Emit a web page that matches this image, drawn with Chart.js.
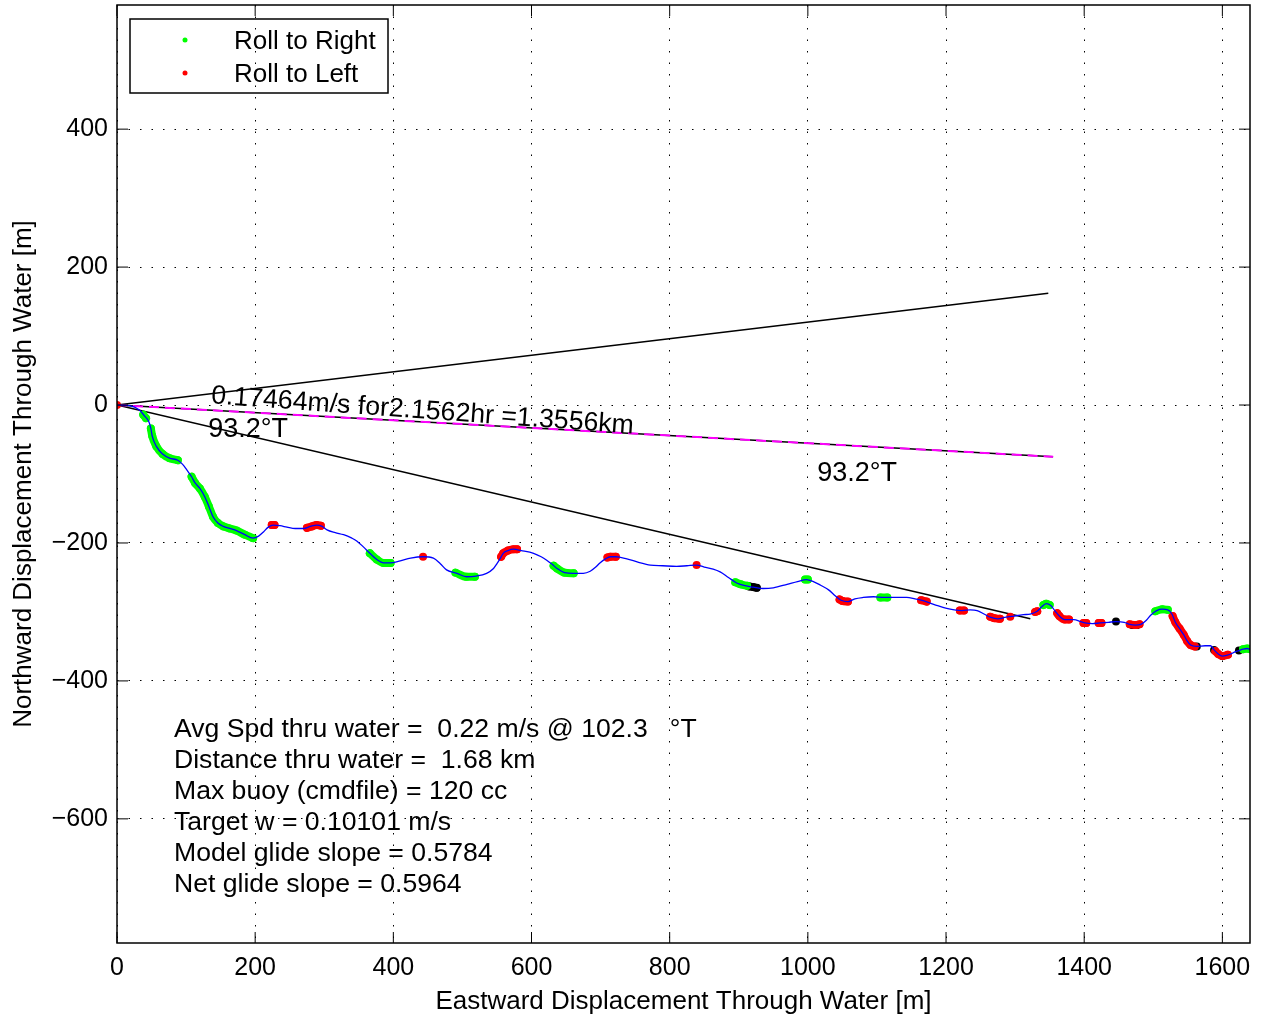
<!DOCTYPE html>
<html>
<head>
<meta charset="utf-8">
<script src="https://cdn.jsdelivr.net/npm/chart.js@4.4.0/dist/chart.umd.min.js"></script>
<style>
  body { margin: 0; background: #fff; }
  #wrap { width: 1262px; height: 1018px; }
</style>
</head>
<body>
<div id="wrap"><canvas id="glider" width="1262" height="1018"></canvas></div>
<script>
// axis ticks
const xTicks = [0, 200, 400, 600, 800, 1000, 1200, 1400, 1600];
const yTicks = [-600, -400, -200, 0, 200, 400];

// glider track through water (east, north) in metres
const trackX = [0, 18, 32, 40, 46, 49, 51, 57, 66, 76, 88, 95, 101, 108, 113, 120, 127, 133, 139, 146, 154, 163, 173, 185, 197,
  205, 212, 219, 226, 236, 246, 258, 270, 280, 289, 297, 304, 316, 328, 340, 347, 357, 366, 376, 386, 396, 410, 425, 443,
  458, 468, 477, 492, 506, 520, 535, 545, 550, 555, 559, 566, 574, 585, 603, 614, 622, 630, 637, 648, 661, 675, 685, 693,
  699, 707, 714, 722, 738, 755, 772, 790, 810, 825, 839, 850, 863, 873, 885, 897, 909, 921, 935, 950, 970, 985, 998, 1008,
  1018, 1030, 1040, 1048, 1058, 1068, 1080, 1095, 1110, 1125, 1143, 1155, 1168, 1185, 1201, 1212, 1223, 1235, 1245, 1255,
  1265, 1275, 1285, 1298, 1312, 1322, 1332, 1338, 1345, 1352, 1358, 1364, 1372, 1385, 1395, 1401, 1412, 1423, 1435, 1446,
  1458, 1466, 1474, 1482, 1490, 1497, 1505, 1513, 1521, 1527, 1532, 1538, 1544, 1549, 1554, 1563, 1575, 1583, 1588, 1594,
  1600, 1606, 1612, 1618, 1624, 1630, 1636, 1641];
const trackY = [0, -1, -7, -16, -24, -34, -45, -60, -71, -77, -80, -86, -94, -104, -113, -121, -133, -147, -162, -171, -176, -179, -182, -188, -193,
  -190, -184, -177, -174, -175, -177, -179, -179, -176, -174, -176, -181, -185, -188, -193, -197, -206, -215, -224, -229, -229, -226, -222, -220,
  -222, -230, -239, -244, -249, -248, -244, -237, -230, -222, -215, -211, -209, -211, -215, -220, -225, -231, -237, -243, -244, -244, -241, -235,
  -229, -223, -220, -220, -223, -228, -232, -233, -234, -233, -232, -235, -238, -242, -250, -258, -262, -264, -266, -265, -260, -256, -253, -256,
  -261, -268, -277, -283, -285, -281, -279, -278, -279, -279, -279, -281, -284, -290, -295, -297, -298, -297, -298, -303,
  -308, -310, -308, -306, -304, -303, -299, -293, -288, -291, -299, -306, -311, -311, -314, -316, -317, -316, -315, -314,
  -315, -318, -319, -318, -312, -304, -298, -296, -297, -303, -315, -324, -333, -342, -348, -350, -349, -349, -355, -361,
  -364, -363, -361, -358, -356, -354, -353, -355];

// roll events, as runs of track points
const rollRight = [
  [[38, -14], [42, -19]],
  [[49, -34], [51, -45], [57, -60], [66, -71], [76, -77], [88, -80]],
  [[108, -104], [113, -113], [120, -121], [127, -133], [133, -147], [139, -162], [146, -171], [154, -176], [163, -179], [173, -182], [185, -188], [197, -193]],
  [[366, -215], [376, -224], [386, -229], [396, -229]],
  [[490, -243], [506, -249], [518, -249]],
  [[632, -233], [637, -237], [648, -243], [661, -244]],
  [[895, -257], [903, -260], [912, -262]],
  [[996, -253], [1000, -253]],
  [[1105, -279], [1115, -279]],
  [[1341, -290], [1345, -288], [1350, -290]],
  [[1503, -299], [1513, -296], [1521, -297]],
  [[1630, -354], [1636, -353], [1640, -354]]
];
const rollLeft = [
  [[0, 0]],
  [[224, -174], [228, -174]],
  [[275, -178], [282, -176], [289, -174], [295, -175]],
  [[443, -220]],
  [[556, -220], [559, -215], [566, -211], [574, -209], [579, -209]],
  [[710, -221], [714, -220], [722, -220]],
  [[839, -232]],
  [[1046, -282], [1050, -284], [1058, -285]],
  [[1164, -283], [1172, -285]],
  [[1220, -298], [1226, -298]],
  [[1264, -307], [1270, -309], [1278, -310]],
  [[1293, -307]],
  [[1329, -300], [1332, -299]],
  [[1361, -302], [1364, -306], [1372, -311], [1378, -311]],
  [[1399, -316], [1403, -316]],
  [[1421, -316], [1425, -316]],
  [[1466, -318], [1474, -319], [1480, -318]],
  [[1528, -306], [1532, -315], [1538, -324], [1544, -333], [1549, -342], [1554, -348], [1560, -350]],
  [[1590, -357], [1594, -361], [1600, -364], [1608, -362]]
];
const noRoll = [
  [[915, -263], [921, -264], [926, -265]],
  [[1446, -314]],
  [[1470, -319], [1476, -319]],
  [[1563, -350]],
  [[1588, -355]],
  [[1600, -364]],
  [[1624, -356]]
];

// straight lines from the start
const upperLine = [[0, 0], [1348, 162]];
const headingLine = [[0, 0], [1355, -75]];
const lowerLine = [[0, 0], [1322, -310]];

const speedLabel = '0.17464m/s for2.1562hr =1.3556km';
const headingLabel = '93.2°T';
const infoLines = [
  'Avg Spd thru water =  0.22 m/s @ 102.3   °T',
  'Distance thru water =  1.68 km',
  'Max buoy (cmdfile) = 120 cc',
  'Target w = 0.10101 m/s',
  'Model glide slope = 0.5784',
  'Net glide slope = 0.5964'
];

const FONT = "'Liberation Sans', Arial, Helvetica, sans-serif";
Chart.defaults.font.family = FONT;
Chart.defaults.color = '#000';

const pts = arr => arr.map(p => ({ x: p[0], y: p[1] }));

const datasets = [];
datasets.push({
  data: trackX.map((v, i) => ({ x: v, y: trackY[i] })),
  showLine: true, borderColor: '#0000ff', borderWidth: 1.3, pointRadius: 0,
  cubicInterpolationMode: 'monotone', order: 0
});
function addRuns(runs, color) {
  runs.forEach(run => {
    datasets.push({
      data: pts(run), showLine: true, borderColor: color, borderWidth: 8,
      borderCapStyle: 'round', borderJoinStyle: 'round',
      pointRadius: 4, pointBorderWidth: 0, pointBackgroundColor: color,
      cubicInterpolationMode: 'monotone', order: 1
    });
  });
}
addRuns(rollRight, '#00ff00');
addRuns(rollLeft, '#ff0000');
addRuns(noRoll, '#000000');
[upperLine, headingLine, lowerLine].forEach(l => {
  datasets.push({ data: pts(l), showLine: true, borderColor: '#000', borderWidth: 1.5, pointRadius: 0, order: 3 });
});
datasets.push({ data: pts(headingLine), showLine: true, borderColor: '#ff00ff', borderWidth: 2,
  borderDash: [10, 6], pointRadius: 0, order: 2 });

const frame = {
  id: 'frame',
  afterDatasetsDraw(chart) {
    const { ctx, chartArea: a, scales: { x, y } } = chart;
    ctx.save();
    ctx.strokeStyle = '#000';
    ctx.lineWidth = 1;
    ctx.beginPath();
    xTicks.forEach(v => {
      const p = x.getPixelForValue(v);
      ctx.moveTo(p, a.bottom); ctx.lineTo(p, a.bottom - 11);
      ctx.moveTo(p, a.top); ctx.lineTo(p, a.top + 11);
    });
    yTicks.forEach(v => {
      const p = y.getPixelForValue(v);
      ctx.moveTo(a.left, p); ctx.lineTo(a.left + 11, p);
      ctx.moveTo(a.right, p); ctx.lineTo(a.right - 11, p);
    });
    ctx.stroke();
    ctx.lineWidth = 1.5;
    ctx.strokeRect(a.left, a.top, a.width, a.height);

    // annotations
    ctx.fillStyle = '#000';
    ctx.font = '26.7px ' + FONT;
    ctx.textAlign = 'left';
    ctx.textBaseline = 'alphabetic';
    ctx.save();
    ctx.translate(x.getPixelForValue(135.7), y.getPixelForValue(2.5));
    ctx.rotate(4.1 * Math.PI / 180);
    ctx.fillText(speedLabel, 0, 0);
    ctx.restore();
    ctx.font = '27px ' + FONT;
    ctx.fillText(headingLabel, x.getPixelForValue(132), y.getPixelForValue(-46));
    ctx.fillText(headingLabel, x.getPixelForValue(1013.6), y.getPixelForValue(-109.7));

    ctx.font = '26.6px ' + FONT;
    ctx.textBaseline = 'middle';
    infoLines.forEach((t, i) => {
      ctx.fillText(t, x.getPixelForValue(82.5), y.getPixelForValue(-470 - i * 45.2));
    });

    // legend
    ctx.font = '26px ' + FONT;
    ctx.lineWidth = 1.5;
    ctx.strokeRect(130, 19, 258, 74);
    [['Roll to Right', '#00ff00', 40], ['Roll to Left', '#ff0000', 73]].forEach(e => {
      ctx.fillStyle = e[1];
      ctx.beginPath();
      ctx.arc(185, e[2], 2.5, 0, Math.PI * 2);
      ctx.fill();
      ctx.fillStyle = '#000';
      ctx.fillText(e[0], 234, e[2] + 2);
    });
    ctx.restore();
  }
};

new Chart(document.getElementById('glider'), {
  type: 'scatter',
  data: { datasets },
  options: {
    responsive: false,
    animation: false,
    layout: { padding: { top: 5, right: 12, left: 0, bottom: 0 } },
    plugins: { legend: { display: false }, tooltip: { enabled: false } },
    scales: {
      x: {
        type: 'linear', min: 0, max: 1640,
        afterBuildTicks: s => { s.ticks = xTicks.map(v => ({ value: v })); },
        afterFit: s => { s.height = 75; s.paddingLeft = 0; s.paddingRight = 0; },
        grid: { color: '#000', lineWidth: 1, drawTicks: false },
        border: { display: false, dash: [1.5, 10] },
        ticks: { font: { size: 25 }, padding: 10, maxRotation: 0, autoSkip: false,
          callback: v => String(v) },
        title: { display: true, text: 'Eastward Displacement Through Water [m]', font: { size: 26 }, padding: { top: 0, bottom: 1 } }
      },
      y: {
        type: 'linear', min: -780, max: 580,
        afterBuildTicks: s => { s.ticks = yTicks.map(v => ({ value: v })); },
        afterFit: s => { s.width = 117; s.paddingTop = 0; s.paddingBottom = 0; },
        grid: { color: '#000', lineWidth: 1, drawTicks: false },
        border: { display: false, dash: [1.5, 10] },
        ticks: { font: { size: 25 }, padding: 9, autoSkip: false,
          callback: v => v < 0 ? '\u2212' + Math.abs(v) : String(v) },
        title: { display: true, text: 'Northward Displacement Through Water [m]', font: { size: 26 }, padding: { top: 8, bottom: 0 } }
      }
    }
  },
  plugins: [frame]
});
</script>
</body>
</html>
